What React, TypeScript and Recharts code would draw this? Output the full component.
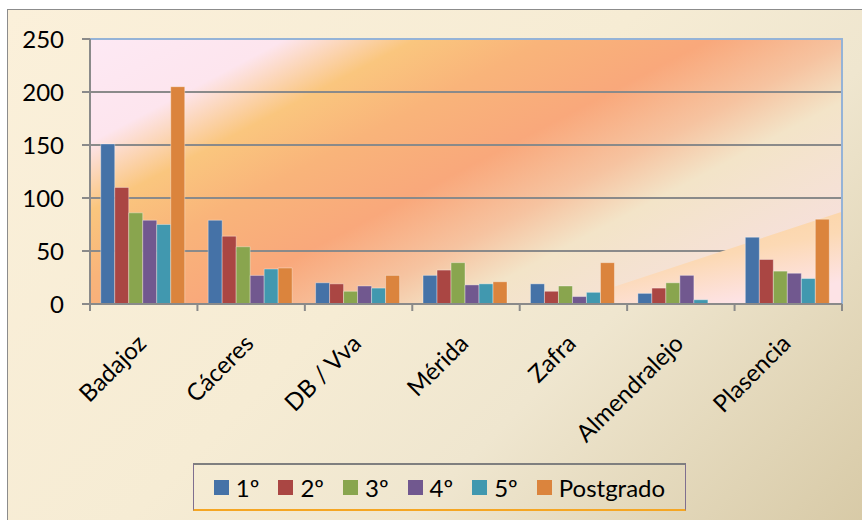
import React from "react";
import {
  BarChart,
  Bar,
  XAxis,
  YAxis,
  CartesianGrid,
  Legend,
  ReferenceArea,
} from "recharts";

const categories = ["Badajoz", "Cáceres", "DB / Vva", "Mérida", "Zafra", "Almendralejo", "Plasencia"];
const primero = [151, 79, 20, 27, 19, 10, 63];
const segundo = [110, 64, 19, 32, 12, 15, 42];
const tercero = [86, 54, 12, 39, 17, 20, 31];
const cuarto = [79, 27, 17, 18, 7, 27, 29];
const quinto = [75, 33, 15, 19, 11, 4, 24];
const postgrado = [205, 34, 27, 21, 39, 0, 80];
const yTicks = [0, 50, 100, 150, 200, 250];

const series = [
  { key: "s1", name: "1º", color: "#4572A7", values: primero },
  { key: "s2", name: "2º", color: "#AA4643", values: segundo },
  { key: "s3", name: "3º", color: "#89A54E", values: tercero },
  { key: "s4", name: "4º", color: "#71588F", values: cuarto },
  { key: "s5", name: "5º", color: "#4198AF", values: quinto },
  { key: "s6", name: "Postgrado", color: "#DB843D", values: postgrado },
];

const data = categories.map((cat, i) => {
  const row: Record<string, string | number> = { cat };
  series.forEach((s) => (row[s.key] = s.values[i]));
  return row;
});

const FONT = "Lato, 'Open Sans', sans-serif";
const AXIS = "#8A8A8A";

function CategoryTick(props: any) {
  const { x, y, payload, index, width, visibleTicksCount } = props;
  const half = width / visibleTicksCount / 2;
  const isLast = index === visibleTicksCount - 1;
  return (
    <g>
      <line x1={x - half} x2={x - half} y1={y - 8} y2={y - 1} stroke={AXIS} strokeWidth={2} />
      {isLast && <line x1={x + half} x2={x + half} y1={y - 8} y2={y - 1} stroke={AXIS} strokeWidth={2} />}
      <text
        x={x + 4}
        y={y + 33}
        transform={`rotate(-45, ${x + 4}, ${y + 33})`}
        textAnchor="end"
        fontSize={24}
        fontFamily={FONT}
        fill="#000"
      >
        {payload.value}
      </text>
    </g>
  );
}

function LegendBox(props: any) {
  const items = props.payload || [];
  return (
    <div
      style={{
        boxSizing: "border-box",
        height: 48,
        borderTop: "2px solid #7f7f7f",
        borderLeft: "1px solid #7f6f8f",
        borderRight: "1px solid #7f6f8f",
        borderBottom: "2px solid #F5A623",
        display: "flex",
        alignItems: "center",
        justifyContent: "center",
        gap: 19,
        fontFamily: FONT,
        fontSize: 24,
        color: "#000",
      }}
    >
      {items.map((it: any) => (
        <div key={it.value} style={{ display: "flex", alignItems: "center", gap: 7 }}>
          <span style={{ display: "inline-block", width: 15, height: 15, background: it.color }} />
          <span>{it.value}</span>
        </div>
      ))}
    </div>
  );
}

// light wedge in the lower right of the plot, starting inside the Zafra band
function Triangle(props: any) {
  const { x, y, width, height } = props;
  return (
    <polygon
      points={`${x + 42},${y + height} ${x + width},${y + height} ${x + width},${y}`}
      fill="url(#tri)"
    />
  );
}

export default function App() {
  return (
    <div style={{ position: "absolute", left: 0, top: 0, width: 862, height: 520, overflow: "hidden" }}>
      <div
        style={{
          position: "absolute",
          left: 7,
          top: 9,
          width: 870,
          height: 530,
          border: "1px solid #8c8c8c",
          background: "linear-gradient(135deg, #FBF0DA 0%, #F6ECD4 45%, #EFE6CF 65%, #D6C8A4 100%)",
        }}
      />
      <div style={{ position: "absolute", left: 0, top: 0 }}>
        <BarChart
          width={862}
          height={520}
          data={data}
          margin={{ top: 39, right: 20, bottom: 9, left: 0 }}
          barCategoryGap="10%"
          barGap={0}
        >
          <defs>
            <linearGradient id="bg" x1="0" y1="0" x2="1" y2="0.67">
              <stop offset="0" stopColor="#FDE9F4" />
              <stop offset="0.18" stopColor="#FDE5EE" />
              <stop offset="0.3" stopColor="#FAC67E" />
              <stop offset="0.42" stopColor="#F9B47A" />
              <stop offset="0.57" stopColor="#F9A87B" />
              <stop offset="0.7" stopColor="#F6C3A0" />
              <stop offset="0.8" stopColor="#F3E4C8" />
              <stop offset="1" stopColor="#F6E0DA" />
            </linearGradient>
            <linearGradient id="tri" x1="0" y1="0" x2="0.6" y2="1">
              <stop offset="0" stopColor="#FBD097" />
              <stop offset="0.6" stopColor="#FCD9B4" />
              <stop offset="1" stopColor="#FDE3E6" />
            </linearGradient>
          </defs>
          <CartesianGrid vertical={false} stroke={AXIS} strokeWidth={2} fill="url(#bg)" fillOpacity={1} />
          <ReferenceArea
            x1="Zafra"
            x2="Plasencia"
            y1={0}
            y2={87}
            shape={<Triangle />}
          />
          <ReferenceArea
            x1="Badajoz"
            x2="Plasencia"
            y1={0}
            y2={250}
            fill="none"
            stroke="#95B3D7"
            strokeWidth={2}
          />
          <XAxis
            dataKey="cat"
            interval={0}
            height={159}
            tickLine={false}
            axisLine={{ stroke: AXIS, strokeWidth: 2 }}
            tick={<CategoryTick />}
          />
          <YAxis
            width={90}
            domain={[0, 250]}
            ticks={yTicks}
            tickSize={8}
            tickMargin={18}
            axisLine={{ stroke: AXIS, strokeWidth: 2 }}
            tickLine={{ stroke: AXIS, strokeWidth: 2 }}
            tick={{ fontSize: 24, fontFamily: FONT, fill: "#000" }}
          />
          {series.map((s) => (
            <Bar
              key={s.key}
              dataKey={s.key}
              name={s.name}
              fill={s.color}
              stroke="rgba(255,255,255,0.35)"
              strokeWidth={1}
              isAnimationActive={false}
            />
          ))}
          <Legend
            verticalAlign="bottom"
            content={<LegendBox />}
            wrapperStyle={{ left: 193, width: 493, bottom: 9 }}
          />
        </BarChart>
      </div>
    </div>
  );
}
